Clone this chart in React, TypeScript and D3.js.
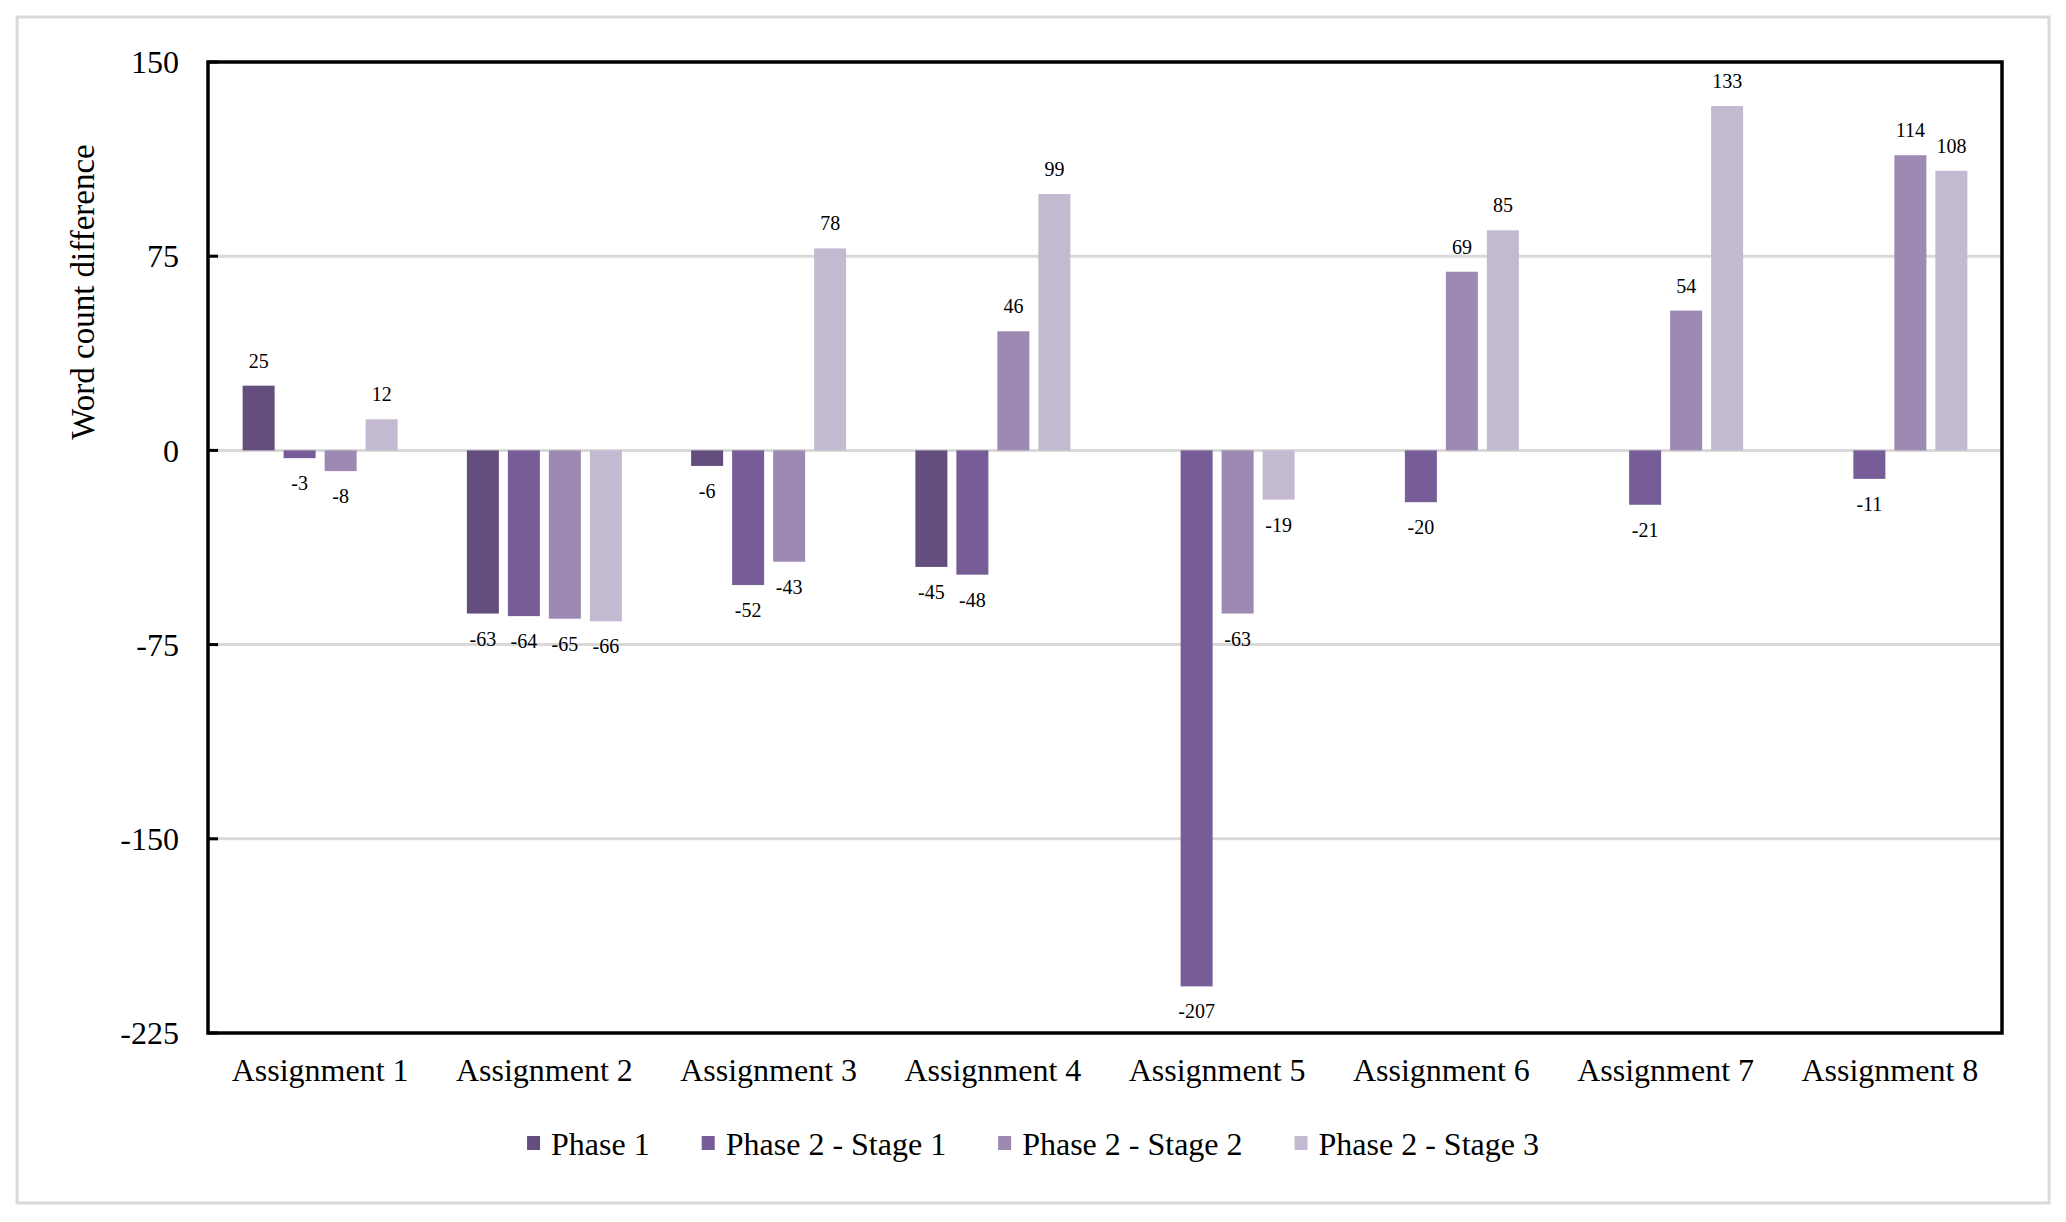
import React, { useEffect, useRef } from "react";
import * as d3 from "d3";

const categories = [
  "Assignment 1", "Assignment 2", "Assignment 3", "Assignment 4",
  "Assignment 5", "Assignment 6", "Assignment 7", "Assignment 8",
];
const seriesNames = ["Phase 1", "Phase 2 - Stage 1", "Phase 2 - Stage 2", "Phase 2 - Stage 3"];
const phase1: (number | null)[] = [25, -63, -6, -45, null, null, null, null];
const stage1: (number | null)[] = [-3, -64, -52, -48, -207, -20, -21, -11];
const stage2: (number | null)[] = [-8, -65, -43, 46, -63, 69, 54, 114];
const stage3: (number | null)[] = [12, -66, 78, 99, -19, 85, 133, 108];
const yTicks = [150, 75, 0, -75, -150, -225];
const colors = ["#634E7D", "#775D97", "#9D89B2", "#C3B9D0"];

const W = 2066;
const H = 1222;
const FONT = "'Liberation Serif', 'Times New Roman', serif";

export default function App() {
  const ref = useRef<SVGSVGElement>(null);

  useEffect(() => {
    const svg = d3.select(ref.current);
    svg.selectAll("*").remove();

    const plot = { left: 208, right: 2002, top: 62, bottom: 1033 };
    const allSeries = [phase1, stage1, stage2, stage3];

    // outer frame
    svg.append("rect")
      .attr("x", 17).attr("y", 17).attr("width", 2032).attr("height", 1186)
      .attr("fill", "#fff").attr("stroke", "#D9D9D9").attr("stroke-width", 3);

    const y = d3.scaleLinear().domain([-225, 150]).range([plot.bottom, plot.top]);
    const x0 = d3.scaleBand<string>().domain(categories).range([plot.left, plot.right]);
    const bw = x0.bandwidth();
    const x1 = d3.scaleBand<string>().domain(seriesNames).range([0, bw])
      .paddingInner(9 / 41).paddingOuter(((bw / 41) - 4 + 9 / 41) / 2);

    // gridlines
    svg.append("g").selectAll("line").data(yTicks.filter(t => t !== 150 && t !== -225)).join("line")
      .attr("x1", plot.left).attr("x2", plot.right)
      .attr("y1", d => y(d)).attr("y2", d => y(d))
      .attr("stroke", "#D9D9D9").attr("stroke-width", 3);

    // bars
    const barG = svg.append("g");
    allSeries.forEach((vals, si) => {
      const data = vals.map((v, i) => ({ v, c: categories[i] })).filter(d => d.v !== null) as { v: number; c: string }[];
      barG.append("g").selectAll("rect").data(data).join("rect")
        .attr("x", d => (x0(d.c) as number) + (x1(seriesNames[si]) as number))
        .attr("width", x1.bandwidth())
        .attr("y", d => y(Math.max(0, d.v)))
        .attr("height", d => Math.abs(y(d.v) - y(0)))
        .attr("fill", colors[si]);
      barG.append("g").selectAll("text").data(data).join("text")
        .attr("x", d => (x0(d.c) as number) + (x1(seriesNames[si]) as number) + x1.bandwidth() / 2)
        .attr("y", d => d.v >= 0 ? y(d.v) - 18 : y(d.v) + 32)
        .attr("text-anchor", "middle")
        .attr("font-family", FONT).attr("font-size", 20).attr("fill", "#000")
        .text(d => String(d.v));
    });

    // plot frame
    svg.append("rect")
      .attr("x", plot.left).attr("y", plot.top)
      .attr("width", plot.right - plot.left).attr("height", plot.bottom - plot.top)
      .attr("fill", "none").attr("stroke", "#000").attr("stroke-width", 3.5);

    // y ticks (inside)
    svg.append("g").selectAll("line").data(yTicks).join("line")
      .attr("x1", plot.left).attr("x2", plot.left + 10)
      .attr("y1", d => y(d)).attr("y2", d => y(d))
      .attr("stroke", "#000").attr("stroke-width", 3);

    // y tick labels
    svg.append("g").selectAll("text").data(yTicks).join("text")
      .attr("x", 179).attr("y", d => y(d)).attr("dy", "0.35em")
      .attr("text-anchor", "end")
      .attr("font-family", FONT).attr("font-size", 32).attr("fill", "#000")
      .text(d => String(d));

    // y title
    svg.append("text")
      .attr("transform", "translate(94,292) rotate(-90)")
      .attr("text-anchor", "middle")
      .attr("font-family", FONT).attr("font-size", 33).attr("fill", "#000")
      .text("Word count difference");

    // category labels
    svg.append("g").selectAll("text").data(categories).join("text")
      .attr("x", d => (x0(d) as number) + bw / 2).attr("y", 1081)
      .attr("text-anchor", "middle")
      .attr("font-family", FONT).attr("font-size", 32).attr("fill", "#000")
      .text(d => d);

    // legend
    const lg = svg.append("g");
    const items = seriesNames.map((name, i) => {
      const g = lg.append("g");
      g.append("rect").attr("x", 0).attr("y", -19).attr("width", 13).attr("height", 14).attr("fill", colors[i]);
      const t = g.append("text").attr("x", 24).attr("y", 0)
        .attr("font-family", FONT).attr("font-size", 32).attr("fill", "#000").text(name);
      const tw = (t.node() as SVGTextElement).getComputedTextLength();
      return { g, w: 24 + tw };
    });
    const gap = 52;
    const total = items.reduce((s, it) => s + it.w, 0) + gap * (items.length - 1);
    let cx = 1033 - total / 2;
    items.forEach(it => {
      it.g.attr("transform", `translate(${cx},1155)`);
      cx += it.w + gap;
    });
  }, []);

  return (
    <div style={{ position: "absolute", left: 0, top: 0, width: W, height: H, background: "#fff" }}>
      <svg ref={ref} width={W} height={H} style={{ display: "block" }} />
    </div>
  );
}
